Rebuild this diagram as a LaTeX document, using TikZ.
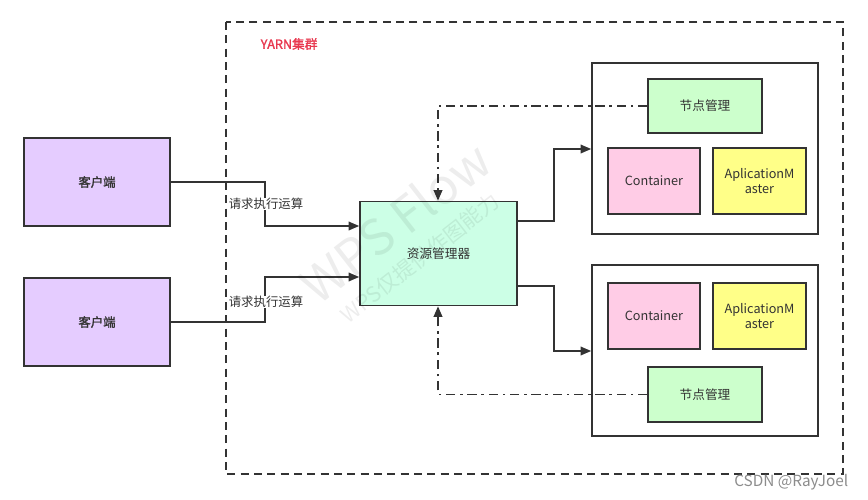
\documentclass[tikz,border=0pt]{standalone}
\usepackage{fontspec}
\setmainfont{Noto Sans CJK SC}
\newfontfamily\cjkb{Noto Sans CJK SC}[FakeBold=1.5]
\usetikzlibrary{arrows.meta}
\definecolor{linec}{HTML}{333333}
\definecolor{clientc}{HTML}{E5CCFF}
\definecolor{rmc}{HTML}{CCFFE6}
\definecolor{nmc}{HTML}{CCFFCC}
\definecolor{contc}{HTML}{FFCCE6}
\definecolor{amc}{HTML}{FFFF88}
\definecolor{yarnc}{HTML}{E8384F}
\tikzset{
  box/.style={draw=linec, line width=1.2pt, inner sep=0pt, font=\fontsize{9.5}{11.5}\selectfont, text=linec},
  conn/.style={draw=linec, line width=1.2pt, -{Triangle[length=8pt,width=6.5pt]}},
  dconn/.style={conn, line width=1.4pt, dash pattern=on 7pt off 3.5pt on 2pt off 3.5pt},
  lbl/.style={fill=white, inner sep=0.5pt, font=\fontsize{9.3}{11}\selectfont, text=linec},
  wm/.style={text=black, text opacity=0.07, rotate=38}
}
\begin{document}
\begin{tikzpicture}[x=0.75pt,y=-0.75pt]
\useasboundingbox (0,0) rectangle (868,500);
% outer cluster
\draw[line width=1.2pt, draw=linec, dash pattern=on 6pt off 4pt] (226,22) rectangle (843,474);
\node[anchor=west, text=yarnc, font=\cjkb\fontsize{9.5}{11}\selectfont] (yarn) at (256,44) {YARN集群};
% clients
\node[box, fill=clientc, minimum width=146*0.75pt, minimum height=88*0.75pt, font=\cjkb\fontsize{9.3}{11}\selectfont] (c1) at (97,182) {客户端};
\node[box, fill=clientc, minimum width=146*0.75pt, minimum height=88*0.75pt, font=\cjkb\fontsize{9.3}{11}\selectfont] (c2) at (97,322) {客户端};
% resource manager
\node[box, fill=rmc, minimum width=157*0.75pt, minimum height=104*0.75pt] (rm) at (438.5,253.5) {资源管理器};
% node boxes
\node[box, fill=white, minimum width=226*0.75pt, minimum height=171*0.75pt] (n1) at (705,148.5) {};
\node[box, fill=white, minimum width=226*0.75pt, minimum height=171*0.75pt] (n2) at (705,350.5) {};
\node[box, fill=nmc, minimum width=114*0.75pt, minimum height=54*0.75pt] (nm1) at (705,106) {节点管理};
\node[box, fill=contc, minimum width=92*0.75pt, minimum height=66*0.75pt] (ct1) at (654,181) {Container};
\node[box, fill=amc, minimum width=93*0.75pt, minimum height=66*0.75pt, align=center] (am1) at (759.5,181) {AplicationM\\aster};
\node[box, fill=contc, minimum width=92*0.75pt, minimum height=66*0.75pt] (ct2) at (654,316) {Container};
\node[box, fill=amc, minimum width=93*0.75pt, minimum height=66*0.75pt, align=center] (am2) at (759.5,316) {AplicationM\\aster};
\node[box, fill=nmc, minimum width=114*0.75pt, minimum height=55*0.75pt] (nm2) at (705,394.5) {节点管理};
% client connectors
\coordinate (k1) at (265,182);
\coordinate (k2) at (265,226);
\draw[conn] (c1.east |- k1) -- (k1) -- (k2) -- (rm.west |- k2);
\coordinate (k3) at (265,322);
\coordinate (k4) at (265,277);
\draw[conn] (c2.east |- k3) -- (k3) -- (k4) -- (rm.west |- k4);
\node[lbl] (l1) at (266,204) {请求执行运算};
\node[lbl] (l2) at (266,302) {请求执行运算};
% rm to nodes
\coordinate (r1) at (554,221);
\coordinate (r2) at (554,149);
\draw[conn] (rm.east |- r1) -- (r1) -- (r2) -- (n1.west |- r2);
\coordinate (r3) at (554,286);
\coordinate (r4) at (554,351);
\draw[conn] (rm.east |- r3) -- (r3) -- (r4) -- (n2.west |- r4);
% heartbeat dash-dot
\coordinate (h1) at (438,106);
\draw[dconn] (nm1.west) -- (h1) -- (rm.north -| h1);
\coordinate (h2) at (438,394.5);
\draw[dconn] (nm2.west) -- (h2) -- (rm.south -| h2);
% watermark (faint, on top as in the reference)
\node[wm, font=\fontsize{37}{40}\selectfont] (wm1) at (395,222) {WPS Flow};
\node[wm, font=\fontsize{16}{17}\selectfont] (wm2) at (420,258) {WPS仅提供作图能力};
% credit
\node[anchor=east, text=black!45, font=\fontsize{11.5}{13}\selectfont] (csdn) at (853,482) {CSDN @RayJoel};
\end{tikzpicture}
\end{document}
